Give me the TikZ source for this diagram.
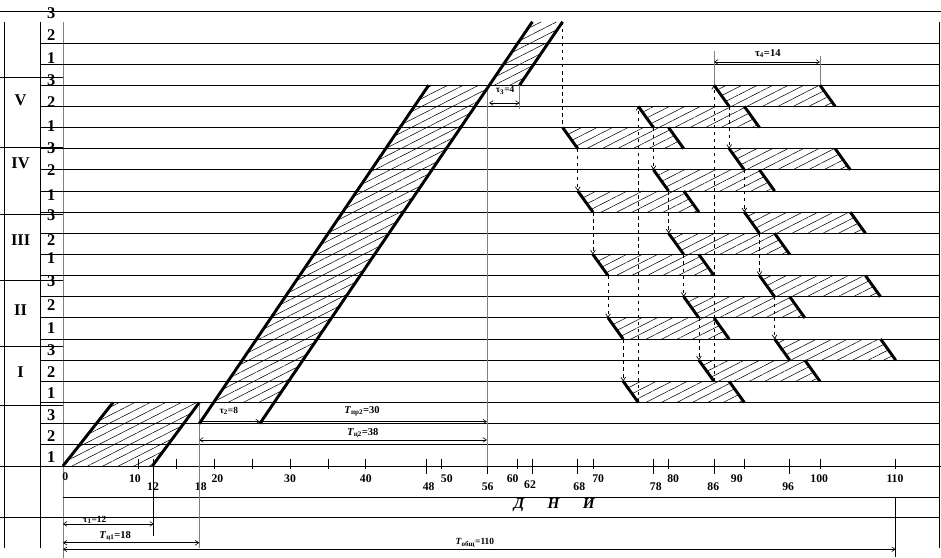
\documentclass[tikz,border=0pt]{standalone}
\usepackage{fontspec}
\setmainfont{Liberation Serif}
\usetikzlibrary{arrows.meta,patterns.meta}

\begin{document}
\begin{tikzpicture}[x=0.2271cm, y=0.6345cm,
    grid/.style={line width=0.7pt},
    edge/.style={line width=2.5pt},
    hatch/.style={pattern={Lines[angle=27,distance=6pt,line width=0.45pt]}},
    dim/.style={{Straight Barb[length=3pt,width=4pt]}-{Straight Barb[length=3pt,width=4pt]}, line width=0.5pt},
    flow/.style={dashed, line width=0.6pt},
    flowarr/.style={flow, -{Straight Barb[length=3pt,width=4pt]}},
    rowno/.style={font=\bfseries\fontsize{14}{14}\selectfont, inner sep=0pt},
    grp/.style={font=\bfseries\fontsize{14}{14}\selectfont, inner sep=0pt},
    num/.style={font=\bfseries\fontsize{10}{10}\selectfont, inner sep=0pt},
    lbl/.style={font=\bfseries\fontsize{8}{8}\selectfont, inner sep=0pt},
    lblT/.style={font=\bfseries\fontsize{9}{9}\selectfont, inner sep=0pt},
]
\useasboundingbox (-8.32,-4.35) rectangle (115.98,22.03);

% hatched areas
\fill[hatch] (0,0) -- (6.6,3) -- (18,3) -- (11.8,0) -- cycle;
\fill[hatch] (19.9,3) -- (48.3,18) -- (56.3,18) -- (27.9,3) -- cycle;
\fill[hatch] (56.3,18) -- (62,21) -- (66,21) -- (60.3,18) -- cycle;
\foreach \g in {1,...,5}
  \foreach \r in {1,2,3} {
    \pgfmathsetmacro\ts{66+2*(5-\g)+10*(\r-1)}
    \pgfmathtruncatemacro\rb{3*\g+\r-1}
    \fill[hatch] (\ts,\rb+1) -- (\ts+2,\rb) -- (\ts+16,\rb) -- (\ts+14,\rb+1) -- cycle;
  }

% frame and rows
\draw[grid] (-8.32,21.51) -- (115.98,21.51);
\draw[grid] (-7.79,20.99) -- (-7.79,-3.86);
\draw[grid] (-3.04,20.99) -- (-3.04,-3.86);
\draw[grid, gray] (0,20.99) -- (0,-4.35);
\draw[grid] (115.72,20.99) -- (115.72,-3.86);
\foreach \k in {1,...,20}
  \draw[grid] (-3.04,\k) -- (115.72,\k);
\foreach \y in {2.88,5.63,8.79,11.87,15.08,18.35}
  \draw[grid] (-8.32,\y) -- (0,\y);
\draw[grid] (-8.32,0) -- (115.98,0);
\draw[grid] (0,-1.47) -- (115.72,-1.47);
\draw[grid] (-8.32,-2.41) -- (115.72,-2.41);

% row numbers and stages
\foreach \p [count=\i from 0] in {0.44,1.39,2.41,3.45,4.46,5.48,6.51,7.63,8.75,9.83,10.69,11.87,12.81,14.0,15.04,16.08,17.22,18.25,19.29,20.38,21.42} {
  \pgfmathtruncatemacro\n{mod(\i,3)+1}
  \node[rowno] (row\i) at (-1.55,\p) {\n};
}
\foreach \g/\p in {I/4.44,II/7.38,III/10.69,IV/14.33,V/17.3}
  \node[grp] (stage\g) at (-5.6,\p) {\g};

% time axis
\foreach \t in {10,15,20,25,30,35,40,50,60,70,80,90,100,110}
  \draw[grid] (\t,0.35) -- (\t,-0.15);
\foreach \t in {12,18,48,56,62,68,78,86,96}
  \draw[grid] (\t,0.35) -- (\t,-0.4);
\foreach \t/\x in {10/9.5,20/20.4,30/30,40/40,50/50.7,60/59.4,70/70.7,80/80.6,90/89,100/99.9,110/109.9}
  \node[num] (tick\t) at (\x,-0.61) {\t};
\foreach \t/\x in {12/11.9,18/18.2,48/48.3,56/56.1,68/68.2,78/78.3,86/85.9,96/95.8}
  \node[num] (tick\t) at (\x,-0.99) {\t};
\node[num] (tick62) at (61.7,-0.9) {62};
\node[num] (tick0) at (0.3,-0.52) {0};
\node[font=\bfseries\itshape\fontsize{13}{13}\selectfont] (days) at (64.9,-1.85) {Д\hspace{20pt}Н\hspace{20pt}И};

% long marker lines
\draw[grid] (12,0.2) -- (12,-3.3);
\draw[grid, gray] (18,2.88) -- (18,-3.9);
\draw[grid, gray] (56,18) -- (56,0);
\draw[grid] (110,-1.5) -- (110,-4.29);
\draw[grid, gray] (60.3,18) -- (60.3,16.9);
\draw[grid, gray] (86,18) -- (86,19.6);
\draw[grid, gray] (100,18) -- (100,19.4);

% thick edges
\draw[edge] (0,0) -- (6.6,3);
\draw[edge] (11.8,0) -- (18,3);
\draw[edge] (18,2) -- (48.3,18);
\draw[edge] (26,2) -- (62,21);
\draw[edge] (60.3,18) -- (66,21);
\foreach \g in {1,...,5}
  \foreach \r in {1,2,3} {
    \pgfmathsetmacro\ts{66+2*(5-\g)+10*(\r-1)}
    \pgfmathtruncatemacro\rb{3*\g+\r-1}
    \draw[edge] (\ts,\rb+1) -- (\ts+2,\rb);
    \draw[edge] (\ts+14,\rb+1) -- (\ts+16,\rb);
  }

% links between works
\draw[flow] (66,21) -- (66,16);
\foreach \g in {2,...,5}
  \foreach \r in {1,2,3} {
    \pgfmathsetmacro\tb{68+2*(5-\g)+10*(\r-1)}
    \pgfmathtruncatemacro\rb{3*\g+\r-1}
    \draw[flowarr] (\tb,\rb) -- (\tb,\rb-2);
  }
\foreach \r in {1,2}
  \draw[flowarr] (66+10*\r,2+\r) -- (66+10*\r,16+\r);

% dimensions
\draw[dim] (18,2.1) -- (26,2.1);
\draw[dim] (26,2.1) -- (56,2.1);
\draw[dim] (18,1.23) -- (56,1.23);
\draw[dim] (56.3,17.16) -- (60.3,17.16);
\draw[dim] (86,19.1) -- (100,19.1);
\draw[dim] (0,-2.74) -- (12,-2.74);
\draw[dim] (0,-3.63) -- (18,-3.63);
\draw[dim] (0,-3.94) -- (110,-3.94);
\node[lbl] (tau2) at (21.9,2.6) {τ\textsubscript{2}=8};
\node[lblT] (tpr2) at (39.5,2.6) {\textit{T}\textsubscript{пр2}=30};
\node[lblT] (tc2) at (39.6,1.55) {\textit{T}\textsubscript{ц2}=38};
\node[lbl] (tau3) at (58.4,17.75) {τ\textsubscript{3}=4};
\node[lblT] (tau4) at (93.1,19.48) {τ\textsubscript{4}=14};
\node[lbl] (tau1) at (4.2,-2.55) {τ\textsubscript{1}=12};
\node[lblT] (tc1) at (6.9,-3.3) {\textit{T}\textsubscript{ц1}=18};
\node[lbl] (tall) at (54.4,-3.64) {\textit{T}\textsubscript{общ}=110};
\end{tikzpicture}
\end{document}
